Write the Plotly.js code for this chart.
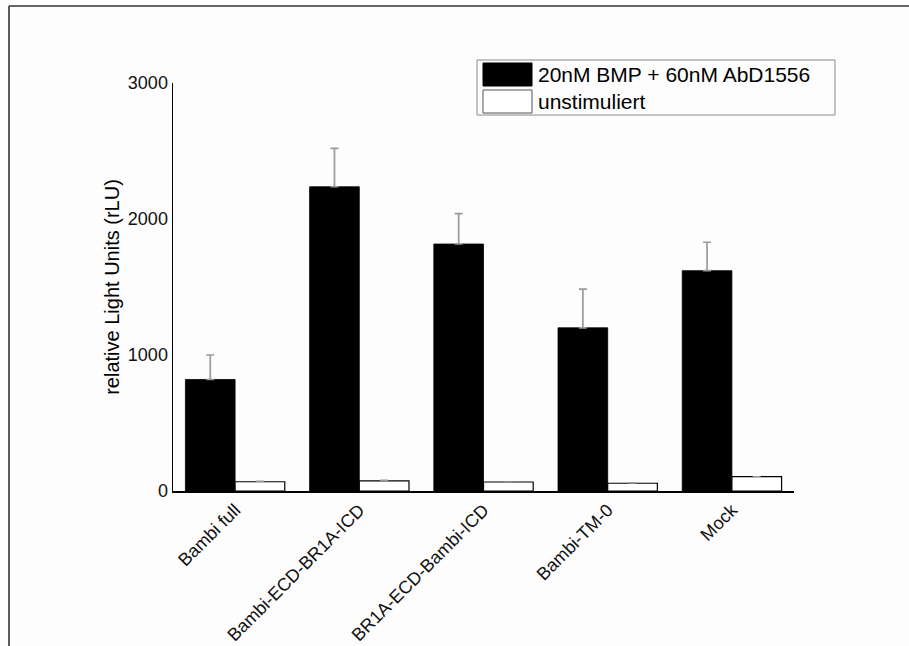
<!DOCTYPE html>
<html>
<head>
<meta charset="utf-8">
<script src="https://cdn.plot.ly/plotly-3.0.1.min.js"></script>
<style>html,body{margin:0;padding:0;background:#fdfdfd;}#chart{width:909px;height:646px;}</style>
</head>
<body>
<div id="chart"></div>
<script>
const categories = ["Bambi full", "Bambi-ECD-BR1A-ICD", "BR1A-ECD-Bambi-ICD", "Bambi-TM-0", "Mock"];
const seriesNames = ["20nM BMP + 60nM AbD1556", "unstimuliert"];
const stimValues = [820, 2237, 1816, 1200, 1620];
const stimErrors = [180, 283, 223, 285, 209];
const unstimValues = [68, 74, 66, 57, 105];
const unstimErrors = [5, 6, 0, 5, 0];
const yTickValues = [0, 1000, 2000, 3000];
const yTickLabels = ["0", "1000", "2000", "3000"];

// plot area in pixels
const L = 173, R = 794, T = 83, B = 491, W = 909, H = 646;
const px = x => (x - L) / (R - L);
const py = y => (B - y) / (B - T);

const font = "Liberation Sans, Arial, sans-serif";

const traces = [
  {
    type: "bar", name: seriesNames[0], x: categories, y: stimValues,
    marker: {color: "#000", line: {color: "#000", width: 0.8}},
    error_y: {type: "data", symmetric: false, array: stimErrors, arrayminus: stimErrors.map(() => 0),
              color: "#9a9a9a", thickness: 1.7, width: 4}
  },
  {
    type: "bar", name: seriesNames[1], x: categories, y: unstimValues,
    marker: {color: "#fff", line: {color: "#000", width: 1.2}},
    error_y: {type: "data", symmetric: false, array: unstimErrors, arrayminus: unstimErrors.map(() => 0),
              color: "#9a9a9a", thickness: 1.2, width: 4}
  }
];

const shapes = [
  // outer frame (left and top edges)
  {type: "line", xref: "paper", yref: "paper", x0: px(9), x1: px(9), y0: py(H + 5), y1: py(6), line: {color: "#333", width: 1.6}},
  {type: "line", xref: "paper", yref: "paper", x0: px(9), x1: px(W + 5), y0: py(6), y1: py(6), line: {color: "#333", width: 1.6}},
  // legend box
  {type: "rect", xref: "paper", yref: "paper", x0: px(477), x1: px(835), y0: py(115), y1: py(60), line: {color: "#8a8a8a", width: 1}, fillcolor: "#fdfdfd"},
  // legend swatches
  {type: "rect", xref: "paper", yref: "paper", x0: px(483), x1: px(532), y0: py(86), y1: py(63), line: {color: "#000", width: 1}, fillcolor: "#000"},
  {type: "rect", xref: "paper", yref: "paper", x0: px(483), x1: px(532), y0: py(113), y1: py(90), line: {color: "#555", width: 1}, fillcolor: "#fff"}
];

const annotations = [
  {xref: "paper", yref: "paper", x: px(536), y: py(74.5), xanchor: "left", yanchor: "middle", showarrow: false,
   text: seriesNames[0], font: {family: font, size: 21, color: "#000"}},
  {xref: "paper", yref: "paper", x: px(536), y: py(101.5), xanchor: "left", yanchor: "middle", showarrow: false,
   text: seriesNames[1], font: {family: font, size: 21, color: "#000"}}
];

const layout = {
  width: W, height: H,
  paper_bgcolor: "#fdfdfd", plot_bgcolor: "rgba(0,0,0,0)",
  margin: {l: L, r: W - R, t: T, b: H - B, autoexpand: false},
  barmode: "group", bargap: 0.2, bargroupgap: 0,
  showlegend: false,
  font: {family: font, color: "#000"},
  xaxis: {
    type: "category", range: [-0.5, categories.length - 0.5],
    showline: true, linecolor: "#000", linewidth: 1.5,
    ticks: "", showgrid: false, zeroline: false,
    tickangle: -45, tickfont: {family: font, size: 18, color: "#111"},
    ticklabelstandoff: 0, automargin: false
  },
  yaxis: {
    range: [0, 3000], tickvals: yTickValues, ticktext: yTickLabels,
    showline: true, linecolor: "#000", linewidth: 1.5,
    ticks: "", showgrid: false, zeroline: false,
    tickfont: {family: font, size: 18, color: "#111"},
    ticklabelstandoff: 0, automargin: false,
    title: {text: "relative Light Units (rLU)", font: {family: font, size: 20, color: "#000"}, standoff: 3}
  },
  shapes: shapes,
  annotations: annotations
};

Plotly.newPlot("chart", traces, layout, {displayModeBar: false, staticPlot: true});
</script>
</body>
</html>
